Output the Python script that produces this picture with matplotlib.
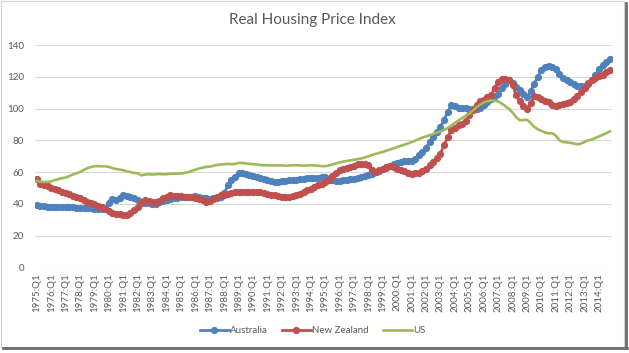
import matplotlib.pyplot as plt
from matplotlib.patches import Rectangle
from matplotlib.lines import Line2D

plt.rcParams['font.family'] = ['Lato', 'DejaVu Sans']

# quarterly, 1975:Q1 .. 2014:Q4
years = list(range(1975, 2015))

australia = [
    39.2, 38.8, 38.5, 38.3, 38.2, 38.0, 38.0, 37.9,
    37.9, 37.8, 37.8, 37.7, 37.6, 37.5, 37.4, 37.2,
    37.0, 36.8, 36.5, 37.5, 40.3, 42.8, 42.4, 43.5,
    45.5, 45.0, 44.4, 43.5, 42.5, 41.3, 40.8, 40.3,
    39.9, 40.2, 41.0, 41.8, 42.4, 43.0, 43.6, 44.0,
    44.4, 44.6, 44.5, 44.6, 44.7, 44.5, 44.0, 43.6,
    43.4, 43.5, 43.8, 44.5, 46.6, 51.8, 55.0, 57.0,
    59.5, 59.3, 58.8, 58.2, 57.5, 57.0, 56.3, 55.5,
    55.0, 54.5, 54.0, 53.9, 54.2, 54.6, 55.0, 55.2,
    55.0, 55.5, 56.0, 56.2, 56.4, 56.6, 56.6, 56.8,
    57.0, 56.0, 55.0, 54.5, 54.6, 54.8, 55.2, 55.4,
    55.6, 56.3, 57.0, 57.5, 58.0, 59.0, 60.0, 61.0,
    62.0, 62.9, 63.8, 65.0, 66.0, 66.4, 66.8, 67.0,
    67.0, 68.5, 70.5, 72.5, 75.5, 79.0, 82.0, 85.5,
    88.4, 93.0, 97.8, 102.0, 101.5, 100.6, 100.5, 100.6,
    100.0, 99.8, 99.9, 100.5, 102.0, 104.0, 106.0, 108.0,
    109.3, 113.0, 115.6, 117.7, 116.0, 113.5, 111.4, 109.0,
    107.2, 111.0, 115.6, 120.0, 124.0, 126.0, 127.0, 126.0,
    125.0, 122.0, 119.0, 117.7, 116.5, 115.5, 114.5, 114.0,
    114.5, 115.5, 117.7, 121.0, 125.0, 127.5, 129.5, 131.3,
]

new_zealand = [
    56.0, 52.8, 51.8, 51.0, 50.2, 49.2, 48.6, 47.8,
    47.0, 46.0, 45.0, 44.4, 43.5, 42.5, 41.2, 40.7,
    39.8, 38.5, 38.0, 37.0, 35.5, 34.5, 33.5, 33.4,
    33.0, 33.2, 34.5, 36.0, 38.0, 40.5, 42.4, 42.0,
    41.5, 41.3, 42.0, 43.5, 44.5, 45.5, 45.3, 45.0,
    44.9, 44.6, 44.4, 44.2, 44.0, 43.4, 42.5, 41.3,
    41.8, 43.0, 44.5, 45.5, 45.5, 46.0, 46.8, 47.3,
    47.6, 47.5, 47.3, 47.4, 47.6, 47.8, 47.5, 46.8,
    46.3, 45.9, 45.5, 45.0, 44.6, 44.4, 44.5, 45.0,
    45.5, 46.5, 47.6, 48.5, 49.5, 50.7, 52.0, 52.8,
    53.9, 55.0, 57.5, 59.5, 61.2, 62.0, 62.5, 63.3,
    64.0, 65.0, 65.4, 65.2, 64.3, 61.5, 60.2, 61.2,
    62.0, 63.0, 63.7, 63.0, 62.0, 61.2, 60.5, 59.5,
    59.1, 59.2, 59.5, 60.5, 62.0, 64.3, 66.5, 69.0,
    71.7, 77.0, 82.0, 86.3, 88.0, 89.5, 90.5, 92.0,
    95.7, 99.0, 102.0, 104.5, 105.6, 107.0, 108.3, 113.0,
    116.5, 118.8, 118.5, 117.7, 115.0, 108.3, 104.5, 101.5,
    99.9, 103.5, 107.6, 107.0, 106.0, 105.0, 104.0, 102.5,
    101.4, 102.0, 103.0, 103.5, 104.0, 106.0, 108.0, 110.4,
    113.0, 116.0, 118.2, 119.0, 120.2, 121.0, 123.0, 124.4,
]

us = [
    54.5, 54.0, 53.8, 53.9, 54.2, 55.0, 55.6, 56.2,
    56.6, 57.5, 58.5, 59.3, 60.2, 61.3, 62.5, 63.2,
    63.7, 63.8, 63.7, 63.7, 63.3, 62.5, 62.0, 61.6,
    61.2, 60.5, 60.0, 59.5, 59.3, 58.0, 58.5, 58.7,
    58.5, 58.7, 58.8, 58.7, 58.7, 59.0, 59.0, 59.1,
    59.1, 59.5, 60.0, 60.8, 61.5, 62.3, 62.8, 63.3,
    63.5, 64.0, 64.5, 64.8, 65.0, 65.2, 65.0, 65.2,
    65.8, 65.8, 65.5, 65.2, 65.0, 64.8, 64.5, 64.3,
    64.3, 64.2, 64.3, 64.2, 64.3, 64.0, 64.2, 64.3,
    64.3, 64.3, 64.0, 64.2, 64.3, 64.2, 64.0, 63.8,
    63.7, 64.2, 64.8, 65.5, 66.2, 66.6, 67.0, 67.4,
    67.8, 68.2, 68.6, 69.2, 70.0, 70.8, 71.5, 72.1,
    72.7, 73.5, 74.3, 75.0, 75.8, 76.6, 77.3, 78.1,
    78.9, 79.8, 80.8, 81.8, 82.5, 83.3, 84.0, 84.8,
    85.6, 86.5, 87.8, 89.3, 91.0, 92.5, 94.0, 95.5,
    96.8, 98.8, 100.8, 102.5, 103.8, 104.7, 105.1, 105.0,
    104.5, 103.2, 101.5, 99.9, 97.5, 94.5, 92.6, 92.8,
    93.0, 91.0, 88.5, 87.0, 86.0, 85.0, 84.4, 84.5,
    83.0, 80.0, 79.0, 78.8, 78.5, 78.0, 77.5, 78.0,
    79.0, 80.0, 80.5, 81.5, 82.5, 83.5, 84.5, 85.7,
]

quarters = [f"{y}:Q{q}" for y in years for q in range(1, 5)]
x = list(range(len(quarters)))

blue = '#4F81BD'
red = '#C0504D'
green = '#9BBB59'
grey = '#595959'

fig = plt.figure(figsize=(6.29, 3.53), dpi=100)
ax = fig.add_axes([0.0556, 0.2422, 0.9169, 0.6303])

ax.plot(x, australia, color=blue, lw=2.0, marker='o', ms=4.2, mec=blue, mfc=blue)
ax.plot(x, new_zealand, color=red, lw=2.0, marker='o', ms=4.2, mec=red, mfc=red)
ax.plot(x, us, color=green, lw=1.9)

ax.set_xlim(-0.5, len(x) - 0.5)
ax.set_ylim(0, 140)
ax.set_yticks(range(0, 141, 20))
ax.set_xticks(x[::4])
ax.set_xticklabels(quarters[::4], rotation=90)
ax.tick_params(axis='both', length=0, labelsize=7, labelcolor=grey)
ax.tick_params(axis='y', pad=8)
ax.tick_params(axis='x', pad=4)
ax.grid(axis='y', color='#d9d9d9', lw=0.8)
ax.set_axisbelow(True)
for s in ax.spines.values():
    s.set_visible(False)

fig.text(0.497, 0.942, 'Real Housing Price Index', ha='center', va='center',
         fontsize=11, color=grey)

handles = [
    Line2D([], [], color=blue, lw=2.0, marker='o', ms=4.2),
    Line2D([], [], color=red, lw=2.0, marker='o', ms=4.2),
    Line2D([], [], color=green, lw=1.9),
]
fig.legend(handles, ['Australia', 'New Zealand', 'US'], loc='center',
           bbox_to_anchor=(0.497, 0.064), ncol=3, frameon=False, fontsize=7,
           labelcolor=grey, handlelength=3.0, handletextpad=0.15,
           columnspacing=1.4, borderpad=0)

# chart frame + shadow
fig.patches.append(Rectangle((0.5 / 629, 6.5 / 353), 623 / 629, 346 / 353,
                             transform=fig.transFigure, fill=False,
                             ec='#d0d0d0', lw=0.8))
fig.add_artist(Line2D([625.5 / 629, 625.5 / 629], [5 / 353, 350 / 353],
                      transform=fig.transFigure, color='#6e6e6e', lw=2))
fig.add_artist(Line2D([3 / 629, 626.5 / 629], [5.5 / 353, 5.5 / 353],
                      transform=fig.transFigure, color='#6e6e6e', lw=2))

fig.savefig('out.png', dpi=100, facecolor='white')
